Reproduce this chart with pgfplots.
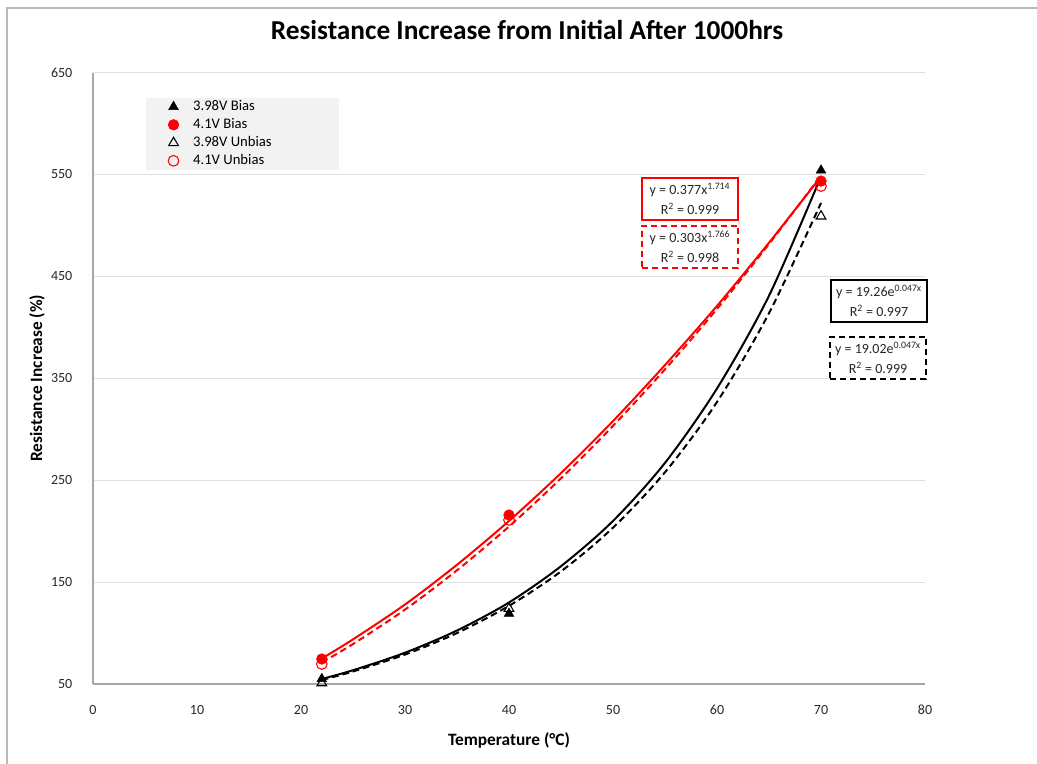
\documentclass[border=0pt]{standalone}
\usepackage{fontspec}
\setmainfont{Carlito}
\usepackage{pgfplots}
\pgfplotsset{compat=1.18}

% trend lines
\pgfplotstableread{
x    rb     rub    bb     bub
22   75.0   71.2   55.0   54.0
25   93.8   89.2   63.5   62.3
30   128.0  123.0  80.7   78.9
35   167.0  161.6  102.5  100.0
40   210.0  204.5  130.0  126.7
45   257.0  251.8  165.6  160.5
50   308.0  303.3  210.0  203.4
55   363.0  358.8  267.0  257.8
60   421.0  418.0  340.0  326.7
65   483.0  481.8  431.0  413.9
70   548.0  549.0  548.0  522.0
}\trend

\begin{document}
\begin{tikzpicture}
% 1px = 0.75pt, origin at the lower left corner of the axis (px 93,684)
\useasboundingbox (-69.75pt,-59.25pt) rectangle (708pt,513pt);
\begin{scope}[x=0.75pt,y=-0.75pt,shift={(-69.75pt,513pt)}]
  \draw[gray!55, line width=1pt] (7,770) -- (7,8) -- (1045,8);
  \fill[gray!10] (146,98) rectangle (339,170);
\end{scope}

\begin{axis}[
  at={(0,0)}, anchor=south west,
  scale only axis, width=624pt, height=458.6pt,
  xmin=0, xmax=80, ymin=50, ymax=650,
  xtick={0,10,...,80}, ytick={50,150,...,650},
  ymajorgrids, grid style={gray!25, line width=0.8pt},
  axis x line*=bottom, axis y line*=left,
  axis line style={gray!70, line width=0.8pt},
  major tick length=0pt,
  /pgf/number format/assume math mode=true,
  tick label style={font=\fontsize{10.5}{12}\selectfont, text=black!85},
  xticklabel style={anchor=center, yshift=-19.5pt},
  yticklabel style={anchor=east, xshift=-12pt},
  title={Resistance Increase from Initial After 1000hrs},
  title style={at={(axis description cs:0.5216,1.0564)}, anchor=center,
    font=\bfseries\fontsize{20.5}{24}\selectfont},
  xlabel={Temperature (°C)},
  ylabel={Resistance Increase (\%)},
  label style={font=\bfseries\fontsize{13}{15}\selectfont},
  xlabel style={at={(axis description cs:0.5,-0.0916)}, anchor=center},
  ylabel style={at={(axis description cs:-0.0673,0.5)}, anchor=center},
  legend cell align=left,
  legend image code/.code={\path (0pt,0pt) (17pt,0pt); \draw[#1] plot coordinates {(8.5pt,0pt)};},
  legend style={at={(axis description cs:0.0637,0.958)}, anchor=north west,
    draw=none, fill=none, inner xsep=11.75pt, inner ysep=0pt, row sep=1pt,
    font=\fontsize{11}{12}\selectfont,
    nodes={inner sep=1pt, text height=8pt, text depth=2.5pt},
    /tikz/every odd column/.append style={column sep=5pt}},
]
  % trend lines
  \addplot[red, line width=1.5pt, smooth, forget plot] table[x=x, y=rb] {\trend};
  \addplot[red, line width=1.5pt, smooth, dash pattern=on 5pt off 3pt, forget plot] table[x=x, y=rub] {\trend};
  \addplot[black, line width=1.5pt, smooth, forget plot] table[x=x, y=bb] {\trend};
  \addplot[black, line width=1.5pt, smooth, dash pattern=on 5pt off 3pt, forget plot] table[x=x, y=bub] {\trend};

  % measured points
  \addplot[only marks, mark=triangle*, mark size=4.2pt, black] coordinates {(22,55) (40,119) (70,554)};
  \addlegendentry{3.98V Bias}
  \addplot[only marks, mark=*, mark size=4pt, red] coordinates {(22,74.5) (40,215.8) (70,543.5)};
  \addlegendentry{4.1V Bias}
  \addplot[only marks, mark=triangle, mark size=4.2pt, black, mark options={line width=0.8pt}] coordinates {(22,51) (40,124) (70,509)};
  \addlegendentry{3.98V Unbias}
  \addplot[only marks, mark=o, mark size=4pt, red, mark options={line width=0.8pt}] coordinates {(22,69.6) (40,211) (70,538.6)};
  \addlegendentry{4.1V Unbias}
\end{axis}

\begin{scope}[x=0.75pt,y=-0.75pt,shift={(-69.75pt,513pt)},
  eq/.style={line width=1.5pt, fill=white, minimum width=72pt, minimum height=32pt,
    align=center, inner sep=1pt, text=black!85, font=\fontsize{10.5}{15}\selectfont}]
  \node[eq, draw=red] at (690,199) {y = 0.377x\textsuperscript{1.714}\\R\textsuperscript{2} = 0.999};
  \node[eq, draw=red, dash pattern=on 4.5pt off 3pt] at (690,247) {y = 0.303x\textsuperscript{1.766}\\R\textsuperscript{2} = 0.998};
  \node[eq, draw=black] at (879,301) {y = 19.26e\textsuperscript{0.047x}\\R\textsuperscript{2} = 0.997};
  \node[eq, draw=black, dash pattern=on 4.5pt off 3pt] at (878,358) {y = 19.02e\textsuperscript{0.047x}\\R\textsuperscript{2} = 0.999};
\end{scope}
\end{tikzpicture}
\end{document}
